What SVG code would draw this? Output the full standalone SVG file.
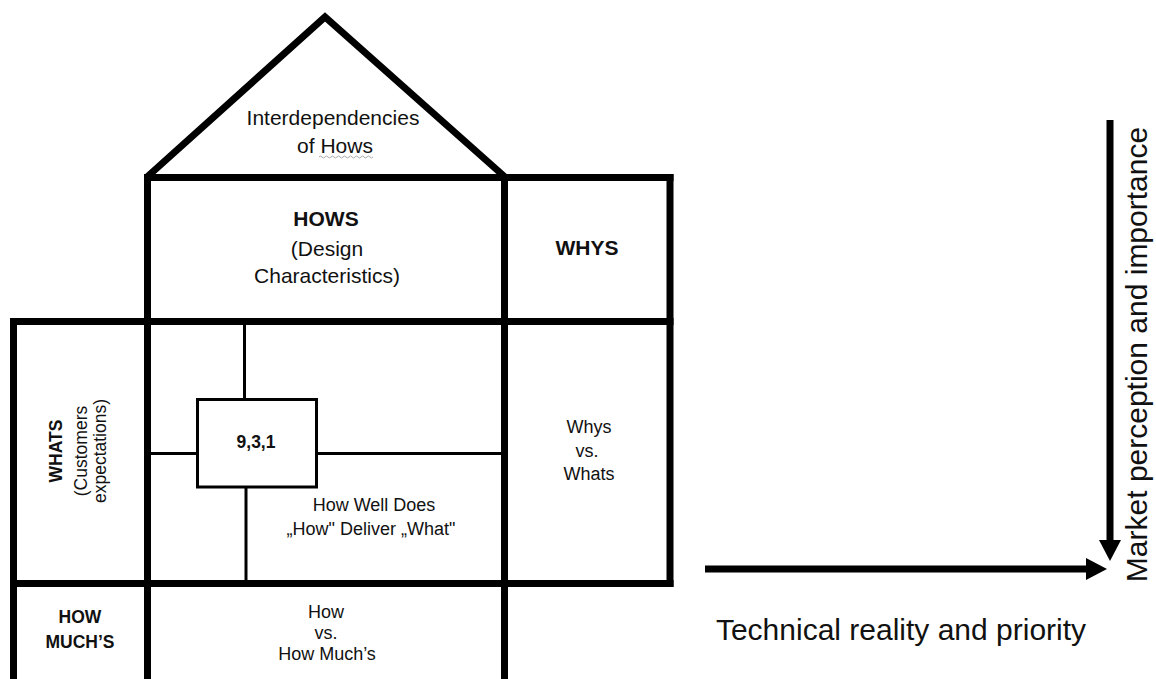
<svg xmlns="http://www.w3.org/2000/svg" width="1156" height="679" viewBox="0 0 1156 679">
<defs>
<style>
.thick{stroke:#000;stroke-width:7;fill:none;stroke-linecap:square}
.thin{stroke:#000;stroke-width:3;fill:none}
.t{font-family:"Liberation Sans",Arial,sans-serif;fill:#111;text-anchor:middle}
.b{font-weight:bold}
.arrow{stroke:#000;stroke-width:7;fill:none}
</style>
<marker id="head" markerUnits="userSpaceOnUse" markerWidth="22" markerHeight="22" viewBox="0 0 22 22" refX="1" refY="11" orient="auto">
<path d="M0,0 L21,11 L0,22 Z" fill="#000"/>
</marker>
</defs>
<rect width="1156" height="679" fill="#fff"/>

<g id="roof">
<path d="M147,177 L325,17 L505,177" stroke="#000" stroke-width="7" fill="none" stroke-linejoin="miter"/>
<text class="t" x="333" y="125" font-size="21">Interdependencies</text>
<text class="t" x="335" y="153" font-size="21">of Hows</text>
<path d="M319,157 q1.5,-2 3,0 t3,0 t3,0 t3,0 t3,0 t3,0 t3,0 t3,0 t3,0 t3,0 t3,0 t3,0 t3,0 t3,0 t3,0 t3,0 t3,0 t3,0" stroke="#aaa" stroke-width="1" fill="none"/>
</g>

<g id="grid">
<line class="thick" x1="147.5" y1="177.5" x2="670" y2="177.5"/>
<line class="thick" x1="13.5" y1="321.5" x2="670" y2="321.5"/>
<line class="thick" x1="13.5" y1="583.5" x2="670" y2="583.5"/>
<line class="thick" x1="13.5" y1="321.5" x2="13.5" y2="685"/>
<line class="thick" x1="147.5" y1="177.5" x2="147.5" y2="685"/>
<line class="thick" x1="504.5" y1="177.5" x2="504.5" y2="685"/>
<line class="thick" x1="670" y1="177.5" x2="670" y2="583.5"/>
</g>

<g id="hows">
<text class="t b" x="326" y="226" font-size="21">HOWS</text>
<text class="t" x="327" y="256" font-size="21">(Design</text>
<text class="t" x="327" y="283" font-size="21">Characteristics)</text>
</g>

<g id="whys">
<text class="t b" x="587" y="255" font-size="21">WHYS</text>
</g>

<g id="whats">
<g transform="translate(0,451) rotate(-90)">
<text class="t b" x="0" y="62" font-size="17.5">WHATS</text>
<text class="t" x="0" y="87" font-size="17.5">(Customers</text>
<text class="t" x="0" y="106" font-size="17.5">expectations)</text>
</g>
</g>

<g id="relationships">
<line class="thin" x1="244.5" y1="321" x2="244.5" y2="399"/>
<line class="thin" x1="246" y1="487" x2="246" y2="583"/>
<line class="thin" x1="147" y1="453.5" x2="197" y2="453.5"/>
<line class="thin" x1="317" y1="453.5" x2="504" y2="453.5"/>
<rect class="thin" x="197.5" y="399.5" width="119" height="87.5"/>
<text class="t b" x="256" y="448" font-size="17.5">9,3,1</text>
<text class="t" x="374" y="511" font-size="18">How Well Does</text>
<text class="t" x="371" y="535" font-size="18">„How" Deliver „What"</text>
</g>

<g id="whys-vs-whats">
<text class="t" x="589" y="433" font-size="18">Whys</text>
<text class="t" x="587" y="457" font-size="18">vs.</text>
<text class="t" x="589" y="480" font-size="18">Whats</text>
</g>

<g id="how-muchs">
<text class="t b" x="80" y="623" font-size="17.5">HOW</text>
<text class="t b" x="80" y="648" font-size="17.5">MUCH’S</text>
</g>

<g id="how-vs-how-muchs">
<text class="t" x="326" y="618" font-size="18">How</text>
<text class="t" x="326" y="639" font-size="18">vs.</text>
<text class="t" x="327" y="660" font-size="18">How Much’s</text>
</g>

<g id="connectors">
<line class="arrow" x1="705" y1="569" x2="1087" y2="569" marker-end="url(#head)"/>
<line class="arrow" x1="1110" y1="120" x2="1110" y2="541" marker-end="url(#head)"/>
</g>

<g id="axis-labels">
<text class="t" x="901" y="640" font-size="30">Technical reality and priority</text>
<g transform="translate(1147,354.5) rotate(-90)">
<text class="t" x="0" y="0" font-size="30">Market perception and importance</text>
</g>
</g>
</svg>
